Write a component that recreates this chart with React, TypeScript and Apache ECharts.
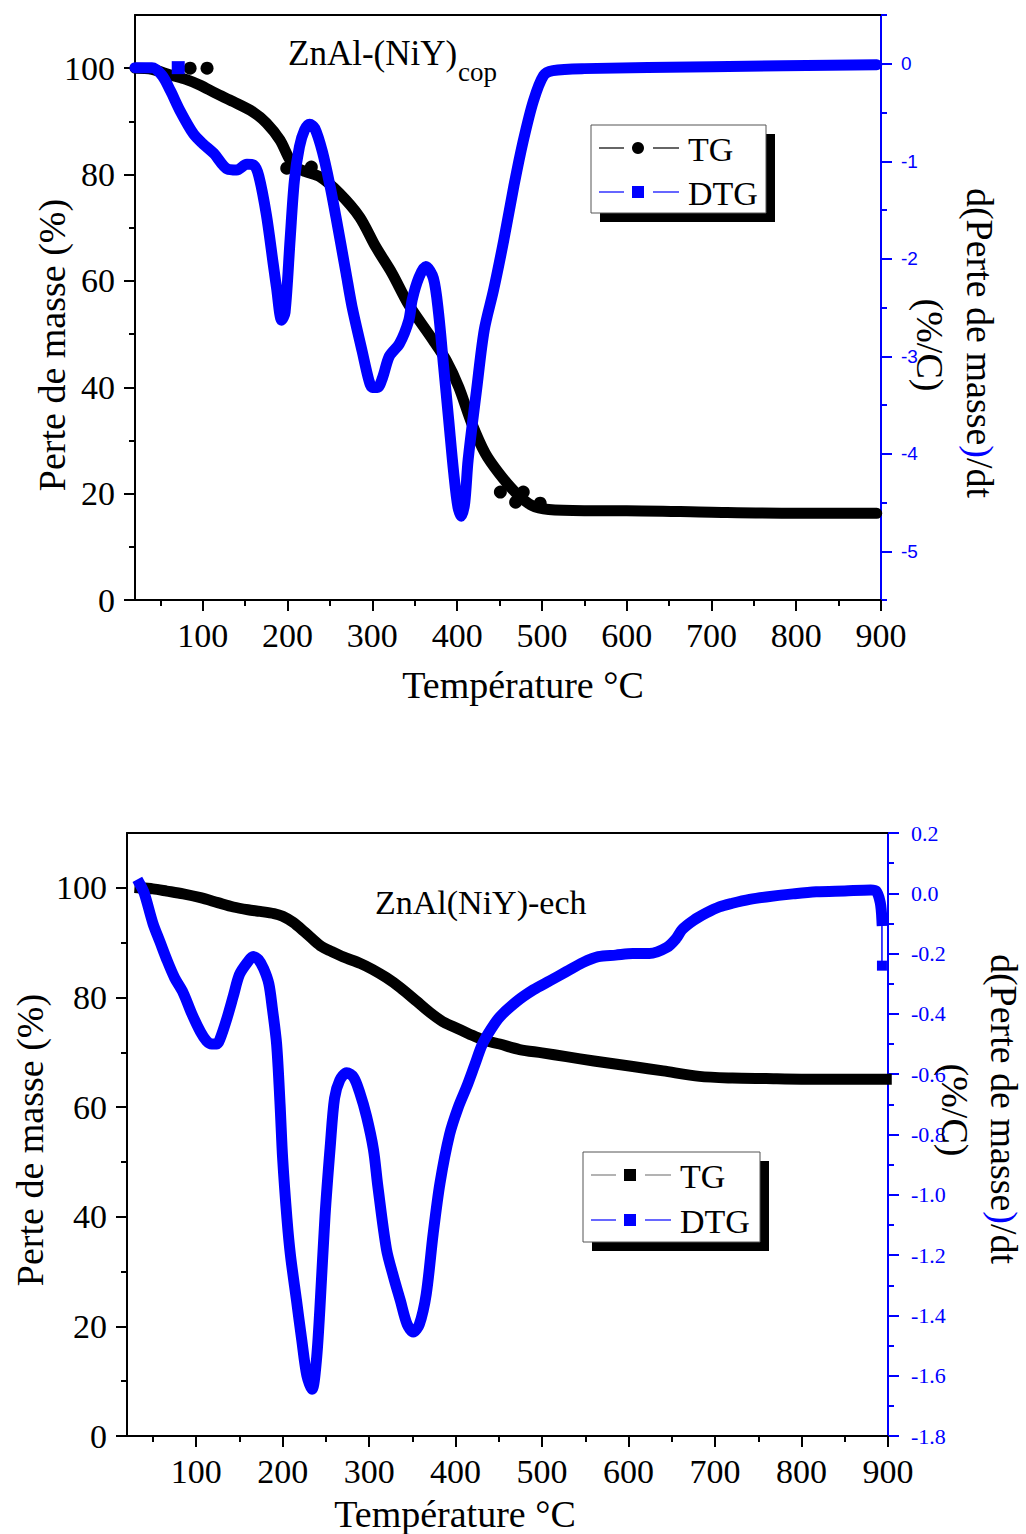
import React, { useEffect, useRef } from 'react';
import * as echarts from 'echarts';

// ---------- tick values ----------
const xTicks = [100, 200, 300, 400, 500, 600, 700, 800, 900];
const xMinor = [50, 150, 250, 350, 450, 550, 650, 750, 850];
const yLeftTicks = [0, 20, 40, 60, 80, 100];
const yLeftMinor = [10, 30, 50, 70, 90];
const topRightTicks = [-5, -4, -3, -2, -1, 0];
const topRightMinor = [-5.5, -4.5, -3.5, -2.5, -1.5, -0.5, 0.5];
const botRightTicks = [-1.8, -1.6, -1.4, -1.2, -1.0, -0.8, -0.6, -0.4, -0.2, 0.0, 0.2];
const botRightMinor = [-1.7, -1.5, -1.3, -1.1, -0.9, -0.7, -0.5, -0.3, -0.1, 0.1];

// ---------- top chart: ZnAl-(NiY)cop ----------
const topTempTG = [20, 40, 62, 80, 97, 115, 136, 159, 175, 191, 203, 212, 222, 238, 261, 285, 304, 323, 343, 371, 387, 402, 417, 433, 449, 469, 488, 508, 550, 600, 700, 800, 895];
const topTG = [100, 99.8, 98.7, 97.9, 96.8, 95.3, 93.7, 91.8, 89.7, 86.5, 82.7, 81.2, 80.5, 79.6, 76.5, 72, 66.4, 61.5, 55.5, 49, 45.1, 40, 33.3, 27.6, 23.9, 20.2, 17.8, 17.0, 16.8, 16.8, 16.5, 16.3, 16.3];
const topTGDotsT = [85, 105, 199, 228, 451, 469, 478, 498];
const topTGDots = [100, 100, 81.2, 81.4, 20.3, 18.4, 20.3, 18.2];

const topTempDTG = [20, 40, 52, 62, 73, 89, 100, 113, 129, 140, 152, 160, 166, 175, 183, 187, 193, 197, 203, 208, 214, 220, 226, 232, 241, 250, 257, 269, 276, 288, 296, 300, 306, 312, 320, 332, 343, 347, 355, 363, 372, 378, 384, 390, 396, 401, 405, 409, 413, 423, 432, 443, 455, 467, 478, 490, 502, 513, 550, 700, 895];
const topDTG = [-0.04, -0.04, -0.12, -0.28, -0.48, -0.72, -0.82, -0.92, -1.08, -1.09, -1.03, -1.04, -1.15, -1.55, -2.05, -2.3, -2.63, -2.55, -1.8, -1.2, -0.85, -0.68, -0.62, -0.66, -0.9, -1.25, -1.57, -2.15, -2.49, -2.95, -3.25, -3.32, -3.32, -3.22, -3.0, -2.87, -2.63, -2.42, -2.19, -2.08, -2.2, -2.55, -3.1, -3.65, -4.2, -4.55, -4.64, -4.5, -4.06, -3.34, -2.73, -2.32, -1.81, -1.25, -0.79, -0.38, -0.12, -0.07, -0.05, -0.03, -0.01];
const topDTGDotsT = [71];
const topDTGDots = [-0.04];

// ---------- bottom chart: ZnAl(NiY)-ech ----------
const botTempTG = [35, 50, 66, 85, 105, 125, 143, 160, 174, 190, 200, 212, 225, 235, 245, 255, 270, 290, 304, 320, 336, 355, 370, 385, 397, 415, 431, 451, 474, 500, 528, 560, 605, 640, 682, 720, 759, 800, 850, 898];
const botTG = [100, 99.8, 99.4, 98.9, 98.2, 97.3, 96.5, 96.0, 95.7, 95.3, 94.8, 93.7, 92.0, 90.6, 89.3, 88.5, 87.4, 86.2, 85.1, 83.6, 81.8, 79.3, 77.3, 75.6, 74.7, 73.4, 72.3, 71.5, 70.5, 69.9, 69.2, 68.4, 67.4, 66.6, 65.6, 65.3, 65.2, 65.1, 65.1, 65.1];

const botTempDTG = [35, 40, 50, 58, 66, 75, 85, 95, 105, 112, 118, 124, 128, 135, 143, 150, 159, 166, 172, 178, 184, 188, 193, 197, 200, 205, 209, 216, 222, 228, 234, 239, 243, 249, 255, 260, 266, 274, 282, 289, 297, 305, 310, 320, 328, 336, 344, 351, 358, 366, 374, 382, 393, 403, 413, 422, 431, 441, 451, 470, 490, 509, 528, 547, 565, 585, 605, 624, 644, 655, 662, 675, 690, 705, 720, 740, 759, 790, 817, 850, 880, 886, 891, 893];
const botDTG = [0.03, 0.0, -0.1, -0.16, -0.22, -0.28, -0.33, -0.4, -0.46, -0.49, -0.5, -0.5, -0.48, -0.42, -0.34, -0.27, -0.23, -0.21, -0.22, -0.25, -0.3, -0.38, -0.5, -0.7, -0.88, -1.08, -1.2, -1.35, -1.48, -1.6, -1.645, -1.55, -1.38, -1.07, -0.84, -0.68, -0.62, -0.595, -0.61, -0.66, -0.74, -0.85, -0.97, -1.18, -1.27, -1.35, -1.43, -1.455, -1.43, -1.33, -1.13, -0.96, -0.8, -0.71, -0.64, -0.57, -0.5, -0.45, -0.41, -0.36, -0.32, -0.29, -0.26, -0.23, -0.21, -0.205, -0.2, -0.2, -0.18, -0.15, -0.12, -0.09, -0.065, -0.045, -0.033, -0.02, -0.012, -0.002, 0.005, 0.008, 0.011, 0.008, -0.03, -0.09];
const botTailT = [893, 893];
const botTail = [-0.09, -0.24];

const zip = (a: number[], b: number[]) => a.map((v, i) => [v, b[i]]);

const SERIF = '"Liberation Serif", "Times New Roman", serif';
const SANS = '"Liberation Sans", Arial, sans-serif';
const BLUE = '#0000ff';
const BLACK = '#000000';

function xAxes(gridIndex: number) {
  return [
    {
      type: 'value', gridIndex, min: 20, max: 900, position: 'bottom',
      axisLine: { show: true, onZero: false, lineStyle: { color: BLACK, width: 2 } },
      axisTick: { show: true, inside: false, length: 11, customValues: xTicks, lineStyle: { color: BLACK, width: 2 } },
      axisLabel: { show: true, customValues: xTicks, fontFamily: SERIF, fontSize: 34, color: BLACK, margin: 18 },
      splitLine: { show: false },
    },
    {
      type: 'value', gridIndex, min: 20, max: 900, position: 'bottom',
      axisLine: { show: false, onZero: false },
      axisTick: { show: true, inside: false, length: 6, customValues: xMinor, lineStyle: { color: BLACK, width: 2 } },
      axisLabel: { show: false },
      splitLine: { show: false },
    },
    {
      type: 'value', gridIndex, min: 20, max: 900, position: 'top',
      axisLine: { show: true, onZero: false, lineStyle: { color: BLACK, width: 2 } },
      axisTick: { show: false },
      axisLabel: { show: false },
      splitLine: { show: false },
    },
  ];
}

function leftAxes(gridIndex: number) {
  return [
    {
      type: 'value', gridIndex, min: 0, max: 110, position: 'left',
      axisLine: { show: true, onZero: false, lineStyle: { color: BLACK, width: 2 } },
      axisTick: { show: true, inside: false, length: 11, customValues: yLeftTicks, lineStyle: { color: BLACK, width: 2 } },
      axisLabel: { show: true, customValues: yLeftTicks, fontFamily: SERIF, fontSize: 34, color: BLACK, margin: 20 },
      splitLine: { show: false },
    },
    {
      type: 'value', gridIndex, min: 0, max: 110, position: 'left',
      axisLine: { show: false, onZero: false },
      axisTick: { show: true, inside: false, length: 6, customValues: yLeftMinor, lineStyle: { color: BLACK, width: 2 } },
      axisLabel: { show: false },
      splitLine: { show: false },
    },
  ];
}

function rightAxes(gridIndex: number, min: number, max: number, ticks: number[], minor: number[], font: string, fontSize: number, margin: number, fmt: (v: number) => string) {
  return [
    {
      type: 'value', gridIndex, min, max, position: 'right',
      axisLine: { show: true, onZero: false, lineStyle: { color: BLUE, width: 2 } },
      axisTick: { show: true, inside: false, length: 11, customValues: ticks, lineStyle: { color: BLUE, width: 2 } },
      axisLabel: { show: true, customValues: ticks, fontFamily: font, fontSize, color: BLUE, margin, formatter: fmt },
      splitLine: { show: false },
    },
    {
      type: 'value', gridIndex, min, max, position: 'right',
      axisLine: { show: false, onZero: false },
      axisTick: { show: true, inside: false, length: 6, customValues: minor, lineStyle: { color: BLUE, width: 2 } },
      axisLabel: { show: false },
      splitLine: { show: false },
    },
  ];
}

function txt(x: number, y: number, text: string, fontSize: number, opts: any = {}) {
  const align = opts.align || 'left';
  return {
    type: 'text', x, y, rotation: opts.rotation || 0, z: 100,
    style: {
      text, fontSize, fontFamily: opts.font || SERIF, fill: opts.fill || BLACK,
      align, textAlign: align, verticalAlign: 'middle', textVerticalAlign: 'middle',
      rich: opts.rich,
    },
  };
}

function legendBox(x: number, y: number, w: number, h: number, rows: any[]) {
  const children: any[] = [
    { type: 'rect', shape: { x: x + 9, y: y + 9, width: w, height: h }, style: { fill: BLACK } },
    { type: 'rect', shape: { x, y, width: w, height: h }, style: { fill: '#ffffff', stroke: '#555555', lineWidth: 1 } },
  ];
  rows.forEach((r) => {
    children.push({ type: 'line', shape: { x1: x + 8, y1: r.y, x2: x + 33, y2: r.y }, style: { stroke: r.lineColor, lineWidth: 1.2 } });
    children.push({ type: 'line', shape: { x1: x + 62, y1: r.y, x2: x + 88, y2: r.y }, style: { stroke: r.lineColor, lineWidth: 1.2 } });
    if (r.marker === 'circle') {
      children.push({ type: 'circle', shape: { cx: x + 47, cy: r.y, r: 6 }, style: { fill: r.markerColor } });
    } else {
      children.push({ type: 'rect', shape: { x: x + 41, y: r.y - 6, width: 12, height: 12 }, style: { fill: r.markerColor } });
    }
    children.push(txt(x + 97, r.y + 1, r.label, 34));
  });
  return { type: 'group', z: 100, children };
}

export default function App() {
  const ref = useRef<HTMLDivElement>(null);
  useEffect(() => {
    if (!ref.current) return;
    const chart = echarts.init(ref.current, null, { renderer: 'svg' });
    const lineCommon = { showSymbol: false, smooth: 0.3 };
    const option: any = {
      animation: false,
      backgroundColor: '#ffffff',
      grid: [
        { left: 135, top: 15, width: 746, height: 585, containLabel: false, outerBoundsMode: 'none' },
        { left: 127, top: 833, width: 761, height: 603, containLabel: false, outerBoundsMode: 'none' },
      ],
      xAxis: [...xAxes(0), ...xAxes(1)],
      yAxis: [
        ...leftAxes(0),
        ...rightAxes(0, -5.5, 0.5, topRightTicks, topRightMinor, SANS, 19, 20, (v: number) => String(Math.round(v))),
        ...leftAxes(1),
        ...rightAxes(1, -1.8, 0.2, botRightTicks, botRightMinor, SERIF, 22, 23, (v: number) => (Math.abs(v) < 1e-9 ? '0.0' : v.toFixed(1))),
      ],
      series: [
        {
          name: 'TG', type: 'line', xAxisIndex: 0, yAxisIndex: 0, data: zip(topTempTG, topTG),
          ...lineCommon, symbol: 'circle',
          lineStyle: { color: BLACK, width: 11, cap: 'round', join: 'round' }, z: 2,
        },
        {
          name: 'TG points', type: 'scatter', xAxisIndex: 0, yAxisIndex: 0, data: zip(topTGDotsT, topTGDots),
          symbol: 'circle', symbolSize: 13, itemStyle: { color: BLACK, opacity: 1 }, z: 2,
        },
        {
          name: 'DTG', type: 'line', xAxisIndex: 0, yAxisIndex: 2, data: zip(topTempDTG, topDTG),
          ...lineCommon, symbol: 'rect',
          lineStyle: { color: BLUE, width: 11, cap: 'round', join: 'round' }, z: 3,
        },
        {
          name: 'DTG points', type: 'scatter', xAxisIndex: 0, yAxisIndex: 2, data: zip(topDTGDotsT, topDTGDots),
          symbol: 'rect', symbolSize: 13, itemStyle: { color: BLUE, opacity: 1 }, z: 3,
        },
        {
          name: 'TG ech', type: 'line', xAxisIndex: 3, yAxisIndex: 4, data: zip(botTempTG, botTG),
          ...lineCommon, symbol: 'rect',
          lineStyle: { color: BLACK, width: 11, cap: 'square', join: 'round' }, z: 2,
        },
        {
          name: 'DTG ech', type: 'line', xAxisIndex: 3, yAxisIndex: 6, data: zip(botTempDTG, botDTG),
          ...lineCommon, symbol: 'rect',
          lineStyle: { color: BLUE, width: 11, cap: 'square', join: 'round' }, z: 3,
        },
        {
          name: 'DTG ech tail', type: 'line', xAxisIndex: 3, yAxisIndex: 6, data: zip(botTailT, botTail),
          showSymbol: true, symbol: 'rect', symbolSize: 10, showAllSymbol: true,
          itemStyle: { color: BLUE, opacity: 1 }, lineStyle: { color: BLUE, width: 1.5 }, z: 3,
        },
      ],
      graphic: [
        // top chart texts
        txt(288, 53, 'ZnAl-(NiY)', 35),
        txt(458, 72, 'cop', 27),
        txt(52, 345, 'Perte de masse (%)', 38, { align: 'center', rotation: Math.PI / 2 }),
        txt(523, 685, 'Température °C', 38, { align: 'center' }),
        txt(980, 343, 'd(Perte de masse{b|)}/dt', 38, {
          align: 'center', rotation: -Math.PI / 2,
          rich: { b: { fill: BLUE, fontSize: 38, fontFamily: SERIF } },
        }),
        txt(930, 345, '(%/C)', 38, { align: 'center', rotation: -Math.PI / 2 }),
        legendBox(591, 125, 175, 88, [
          { y: 148, lineColor: BLACK, marker: 'circle', markerColor: BLACK, label: 'TG' },
          { y: 192, lineColor: BLUE, marker: 'rect', markerColor: BLUE, label: 'DTG' },
        ]),
        // bottom chart texts
        txt(375, 902, 'ZnAl(NiY)-ech', 34),
        txt(30, 1140, 'Perte de masse (%)', 38, { align: 'center', rotation: Math.PI / 2 }),
        txt(455, 1514, 'Température °C', 38, { align: 'center' }),
        txt(1004, 1109, 'd(Perte de masse{b|)}/dt', 38, {
          align: 'center', rotation: -Math.PI / 2,
          rich: { b: { fill: BLUE, fontSize: 38, fontFamily: SERIF } },
        }),
        txt(955, 1110, '(%/C)', 38, { align: 'center', rotation: -Math.PI / 2 }),
        legendBox(583, 1152, 177, 90, [
          { y: 1175, lineColor: '#808080', marker: 'rect', markerColor: BLACK, label: 'TG' },
          { y: 1220, lineColor: BLUE, marker: 'rect', markerColor: BLUE, label: 'DTG' },
        ]),
      ],
    };
    chart.setOption(option);
    return () => chart.dispose();
  }, []);
  return (
    <div
      ref={ref}
      style={{ position: 'absolute', left: 0, top: 0, width: 1026, height: 1534, background: '#fff' }}
    />
  );
}
